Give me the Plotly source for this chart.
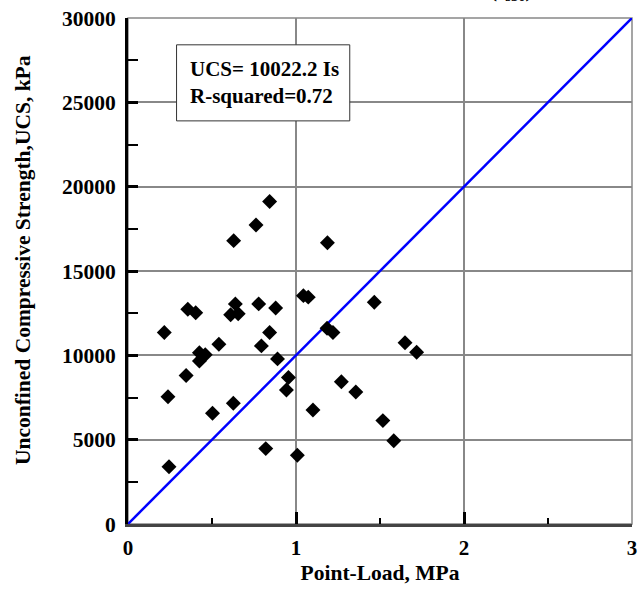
import plotly.graph_objects as go

# Data
point_load = [0.843, 0.762, 0.629, 1.187, 1.044, 1.073, 0.356, 0.403, 0.639, 0.611,
              0.656, 0.778, 0.879, 1.466, 0.216, 0.843, 1.185, 1.220, 0.541, 0.794,
              1.649, 1.718, 0.425, 0.460, 0.425, 0.890, 0.346, 0.955, 0.943, 1.270,
              1.356, 0.238, 0.627, 0.503, 1.101, 1.517, 1.582, 0.820, 1.008, 0.244]
ucs = [19120, 17730, 16800, 16680, 13540, 13450, 12730, 12530, 13050, 12400,
       12460, 13050, 12810, 13150, 11350, 11350, 11610, 11350, 10660, 10560,
       10750, 10180, 10160, 10040, 9670, 9790, 8800, 8680, 7950, 8440,
       7830, 7550, 7160, 6570, 6760, 6130, 4940, 4470, 4070, 3400]
fit_x = [0, 3]
fit_y = [0, 30000]

FONT = "Liberation Serif"

fig = go.Figure()
fig.add_trace(go.Scatter(x=fit_x, y=fit_y, mode="lines",
                         line=dict(color="#0000ff", width=2.5),
                         showlegend=False, hoverinfo="skip", cliponaxis=False))
fig.add_trace(go.Scatter(x=point_load, y=ucs, mode="markers",
                         marker=dict(symbol="diamond", size=11.5, color="black"),
                         showlegend=False))

# border (top/right) gray
fig.add_shape(type="rect", xref="paper", yref="paper", x0=0, x1=1, y0=0, y1=1,
              line=dict(color="#888888", width=1.5), layer="below")
# text box
fig.add_shape(type="rect", xref="x", yref="y", x0=0.289, x1=1.32, y0=23900, y1=28410,
              line=dict(color="#333333", width=1), fillcolor="white", layer="above")
fig.add_annotation(x=0.355, y=26150, xref="x", yref="y", xanchor="left", yanchor="middle",
                   align="left", showarrow=False,
                   text="<b>UCS= 10022.2 Is<br>R-squared=0.72</b>",
                   font=dict(family=FONT, size=21, color="black"))
# partially clipped title at top
fig.add_annotation(x=(515 - 128) / 169.6, y=1 + (18 - 6) / 506, xref="x", yref="paper",
                   xanchor="center", yanchor="bottom", showarrow=False,
                   text="<b>(I<sub>s50</sub>)</b>", font=dict(family=FONT, size=21, color="black"))
# y axis title
fig.add_annotation(x=-(128 - 22) / 509, y=(524 - 260) / 506, xref="paper", yref="paper",
                   xanchor="center", yanchor="middle", showarrow=False, textangle=-90,
                   text="<b>Unconfined Compressive Strength,UCS, kPa</b>",
                   font=dict(family=FONT, size=21.5, color="black"))

fig.update_layout(
    width=640, height=590,
    margin=dict(l=128, r=3, t=18, b=66),
    paper_bgcolor="white", plot_bgcolor="white",
    font=dict(family=FONT, color="black"),
    xaxis=dict(range=[0, 3], dtick=1, tick0=0,
               showgrid=True, gridcolor="#888888", gridwidth=1.5,
               zeroline=False, showline=True, linecolor="#444444", linewidth=3,
               ticks="inside", ticklen=12, tickwidth=2.5, tickcolor="black",
               minor=dict(dtick=0.5, ticks="inside", ticklen=6, tickwidth=2,
                          tickcolor="black", showgrid=False),
               ticklabeloverflow="allow", ticklabelstandoff=3,
               tickprefix="<b>", ticksuffix="</b>",
               tickfont=dict(family=FONT, size=21, color="black"),
               title=dict(text="<b>Point-Load, MPa</b>", standoff=6,
                          font=dict(family=FONT, size=21.5, color="black"))),
    yaxis=dict(range=[0, 30000], dtick=5000, tick0=0, tickformat="d",
               showgrid=True, gridcolor="#888888", gridwidth=1.5,
               zeroline=False, showline=True, linecolor="black", linewidth=3,
               ticks="inside", ticklen=10, tickwidth=2.5, tickcolor="black",
               minor=dict(dtick=2500, ticks="inside", ticklen=10, tickwidth=2,
                          tickcolor="black", showgrid=False),
               ticklabeloverflow="allow", ticklabelstandoff=5,
               tickprefix="<b>", ticksuffix="</b>",
               tickfont=dict(family=FONT, size=21.5, color="black")),
)

fig.write_html("out.html")
